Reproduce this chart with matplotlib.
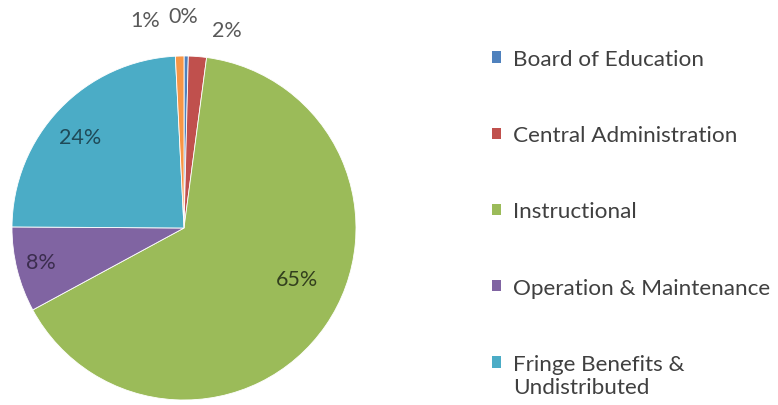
import matplotlib
matplotlib.use("Agg")
import matplotlib.pyplot as plt
import numpy as np
from matplotlib.patches import Patch

categories = ["Board of Education", "Central Administration", "Instructional",
              "Operation & Maintenance", "Fringe Benefits &\nUndistributed", "Other"]
values = [0.4, 1.7, 65.0, 8.0, 24.1, 0.8]
legend_count = 5

colors = ["#4F81BD", "#C0504D", "#9BBB59", "#8064A2", "#4BACC6", "#F79646"]
label_colors = ["#595959", "#595959", "#33401E", "#3B2D4E", "#1F4A58", "#595959"]
label_radius = [1.23, 1.18, 0.72, 0.855, 0.80, 1.23]
label_angle_nudge = [1.0, -7.7, 10.0, -0.6, 2.5, 9.0]

plt.rcParams['font.family'] = ['Lato', 'DejaVu Sans']

fig = plt.figure(figsize=(7.78, 4.06), dpi=100)
ax = fig.add_axes([12/778, 5/406, 344/778, 344/406])
wedges, _ = ax.pie(values, colors=colors, startangle=90, counterclock=False,
                   radius=1.0, wedgeprops=dict(edgecolor="white", linewidth=0.6))
ax.set_xlim(-1, 1)
ax.set_ylim(-1, 1)
ax.set_aspect("equal")
ax.axis("off")

total = sum(values)
for w, v, r, nudge, c in zip(wedges, values, label_radius, label_angle_nudge, label_colors):
    mid = np.deg2rad((w.theta1 + w.theta2) / 2 + nudge)
    pct = v / total * 100
    ax.text(r * np.cos(mid), r * np.sin(mid), f"{pct:.0f}%", ha="center", va="center",
            fontsize=15.5, color=c, clip_on=False)

fs = 16.2
handles = [Patch(facecolor=colors[i], edgecolor="none") for i in range(legend_count)]
leg = fig.legend(handles, categories[:legend_count], loc="upper left",
                 bbox_to_anchor=(492/778, 1 - 50/406), frameon=False,
                 fontsize=fs, labelspacing=2.5, handlelength=0.4, handleheight=0.4,
                 handletextpad=0.55, borderpad=0, borderaxespad=0)
for t in leg.get_texts():
    t.set_color("#404040")
# align the marker of the two-line entry with its first line
h = leg.legend_handles[4]
h.set_y(h.get_y() + fs * 0.6)

fig.savefig("out.png", dpi=100)
